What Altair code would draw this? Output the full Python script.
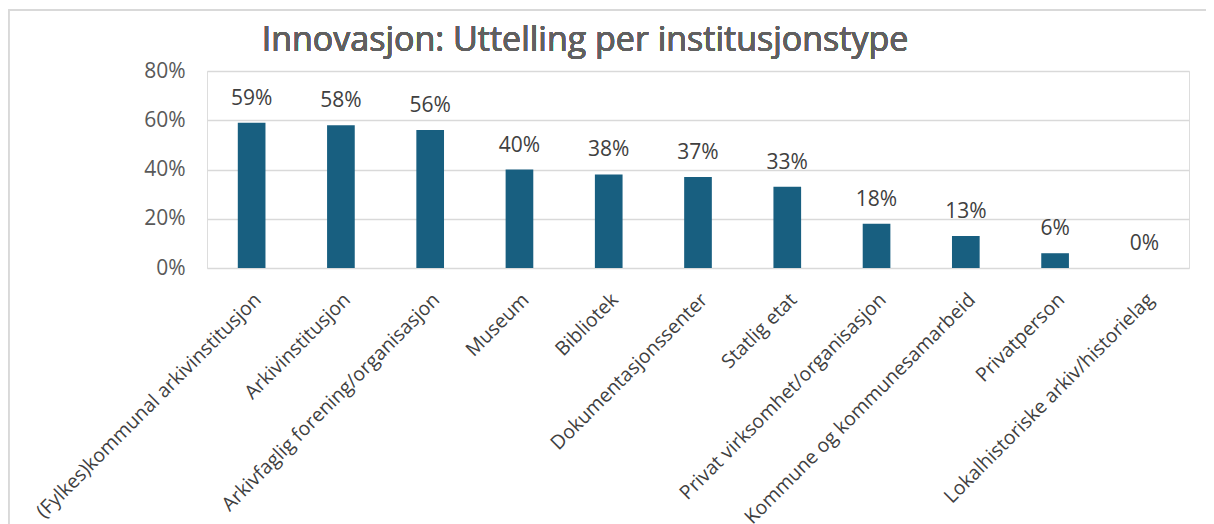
import altair as alt
import pandas as pd

categories = [
    "(Fylkes)kommunal arkivinstitusjon",
    "Arkivinstitusjon",
    "Arkivfaglig forening/organisasjon",
    "Museum",
    "Bibliotek",
    "Dokumentasjonssenter",
    "Statlig etat",
    "Privat virksomhet/organisasjon",
    "Kommune og kommunesamarbeid",
    "Privatperson",
    "Lokalhistoriske arkiv/historielag",
]
values = [0.59, 0.58, 0.56, 0.40, 0.38, 0.37, 0.33, 0.18, 0.13, 0.06, 0.0]
y_ticks = [0, 0.2, 0.4, 0.6, 0.8]

df = pd.DataFrame({"kategori": categories, "andel": values})

FONT = "Open Sans"
BAR = "#185f80"

x = alt.X(
    "kategori:N",
    sort=categories,
    title=None,
    scale=alt.Scale(paddingInner=0.69, paddingOuter=0.345),
    axis=alt.Axis(
        labelAngle=-45,
        labelAlign="right",
        labelBaseline="top",
        labelFontSize=19.5,
        labelColor="#404040",
        labelFont=FONT,
        labelPadding=22,
        ticks=False,
        domain=False,
        labelLimit=0,
        labelOverlap=False,
    ),
)
y = alt.Y(
    "andel:Q",
    title=None,
    scale=alt.Scale(domain=[0, 0.8], nice=False),
    axis=alt.Axis(
        values=y_ticks,
        format=".0%",
        labelFontSize=21,
        labelColor="#595959",
        labelFont=FONT,
        labelPadding=22,
        ticks=False,
        domain=False,
        gridColor="#d9d9d9",
        gridWidth=1.5,
    ),
)

base = alt.Chart(df)
bars = base.mark_bar(color=BAR).encode(x=x, y=y)
labels = base.mark_text(
    dy=-18, baseline="alphabetic", fontSize=21, color="#404040", font=FONT
).encode(x=x, y=y, text=alt.Text("andel:Q", format=".0%"))

title = alt.Chart(df).mark_text(
    text="Innovasjon: Uttelling per institusjonstype",
    fontSize=34,
    fontWeight="normal",
    color="#606060",
    font=FONT,
    baseline="alphabetic",
    align="center",
).encode(x=alt.value(378), y=alt.value(-20))

frame_left = alt.Chart(df).mark_rule(color="#d9d9d9", strokeWidth=1.5).encode(
    x=alt.value(-198.5), y=alt.value(-61), y2=alt.value(460)
)
frame_top = alt.Chart(df).mark_rule(color="#d9d9d9", strokeWidth=1.5).encode(
    x=alt.value(-198.5), x2=alt.value(1010), y=alt.value(-61)
)

chart = (
    alt.layer(frame_left, frame_top, bars, labels, title)
    .properties(
        width=982,
        height=197,
        autosize=alt.AutoSizeParams(type="none"),
        padding={"left": 199, "top": 63, "right": 17, "bottom": 260},
    )
    .configure_view(stroke=None)
    .configure(background="white")
)

chart.save("out.html", embed_options={"renderer": "svg", "actions": False})
